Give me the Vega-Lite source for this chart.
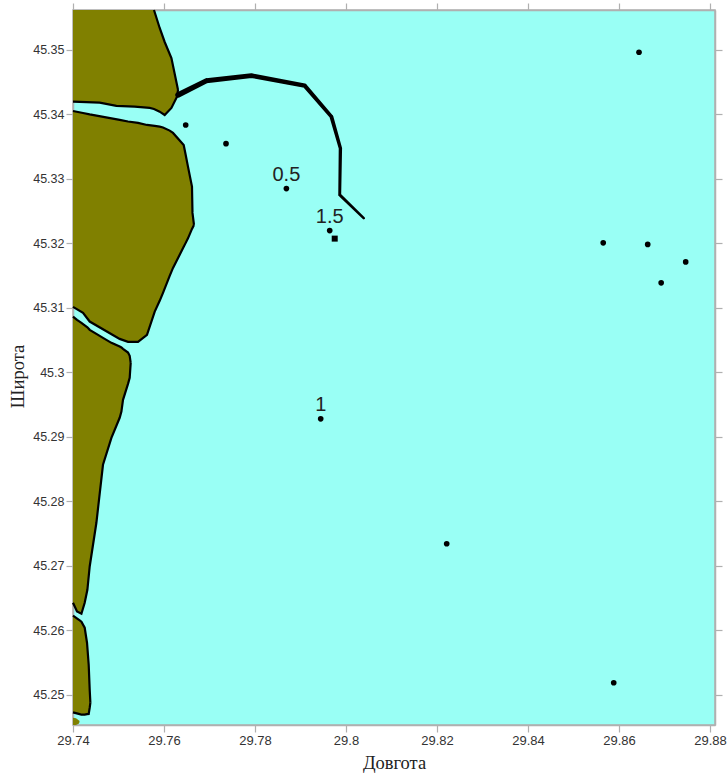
{
"$schema":"https://vega.github.io/schema/vega-lite/v6.json",
"width":642,"height":715,
"autosize":"none",
"padding":{"left":73,"top":10,"right":13,"bottom":48},
"background":"white",
"view":{"fill":"#99FFF5","stroke":"#b0b0b0","strokeWidth":1.5},
"config":{"font":"Liberation Sans","axis":{"grid":false,"domainColor":"#b0b0b0","domainWidth":1.5,"tickColor":"#b0b0b0","tickSize":7,"tickWidth":1.2,"labelColor":"#333333","labelFont":"Liberation Sans","labelFontSize":12.5,"labelOverlap":false,"labelFlush":false,"titleFont":"Liberation Serif","titleFontSize":18.5,"titleFontWeight":"normal","titleColor":"#222222"}},
"datasets":{
"land":[
{"piece":1,"lon":29.74,"top":45.3562,"bottom":45.34198},
{"piece":1,"lon":29.74587,"top":45.3562,"bottom":45.34183},
{"piece":1,"lon":29.74954,"top":45.3562,"bottom":45.34132},
{"piece":1,"lon":29.75356,"top":45.3562,"bottom":45.34121},
{"piece":1,"lon":29.75686,"top":45.3562,"bottom":45.34101},
{"piece":1,"lon":29.7578,"top":45.3562,"bottom":45.34085},
{"piece":1,"lon":29.75905,"top":45.35341,"bottom":45.34043},
{"piece":1,"lon":29.76015,"top":45.35124,"bottom":45.33992},
{"piece":1,"lon":29.76163,"top":45.34876,"bottom":45.34101},
{"piece":1,"lon":29.76286,"top":45.34457,"bottom":45.34276},
{"piece":1,"lon":29.76308,"top":45.3438,"bottom":45.3438},
{"piece":2,"lon":29.74,"top":45.34054,"bottom":45.31016},
{"piece":2,"lon":29.7422,"top":45.34023,"bottom":45.30922},
{"piece":2,"lon":29.74367,"top":45.34,"bottom":45.30788},
{"piece":2,"lon":29.75026,"top":45.33915,"bottom":45.30519},
{"piece":2,"lon":29.75209,"top":45.33891,"bottom":45.30473},
{"piece":2,"lon":29.75429,"top":45.33868,"bottom":45.30473},
{"piece":2,"lon":29.75626,"top":45.33837,"bottom":45.30581},
{"piece":2,"lon":29.75796,"top":45.33822,"bottom":45.30943},
{"piece":2,"lon":29.75905,"top":45.33811,"bottom":45.31109},
{"piece":2,"lon":29.75978,"top":45.33798,"bottom":45.31233},
{"piece":2,"lon":29.76125,"top":45.33749,"bottom":45.31496},
{"piece":2,"lon":29.76198,"top":45.33713,"bottom":45.3162},
{"piece":2,"lon":29.76433,"top":45.33527,"bottom":45.31946},
{"piece":2,"lon":29.76477,"top":45.33372,"bottom":45.32008},
{"piece":2,"lon":29.76527,"top":45.33191,"bottom":45.32078},
{"piece":2,"lon":29.76615,"top":45.32881,"bottom":45.32225},
{"piece":2,"lon":29.76626,"top":45.32473,"bottom":45.3224},
{"piece":2,"lon":29.76659,"top":45.32287,"bottom":45.32287},
{"piece":3,"lon":29.74,"top":45.30865,"bottom":45.26426},
{"piece":3,"lon":29.74088,"top":45.30814,"bottom":45.26291},
{"piece":3,"lon":29.74185,"top":45.30767,"bottom":45.26256},
{"piece":3,"lon":29.74257,"top":45.30729,"bottom":45.26426},
{"piece":3,"lon":29.74316,"top":45.30698,"bottom":45.26628},
{"piece":3,"lon":29.74367,"top":45.30659,"bottom":45.26989},
{"piece":3,"lon":29.74514,"top":45.30597,"bottom":45.27667},
{"piece":3,"lon":29.74659,"top":45.30535,"bottom":45.28566},
{"piece":3,"lon":29.74844,"top":45.30457,"bottom":45.28984},
{"piece":3,"lon":29.75026,"top":45.304,"bottom":45.29295},
{"piece":3,"lon":29.75064,"top":45.30386,"bottom":45.29392},
{"piece":3,"lon":29.75099,"top":45.30364,"bottom":45.29574},
{"piece":3,"lon":29.75209,"top":45.30307,"bottom":45.29822},
{"piece":3,"lon":29.75246,"top":45.30256,"bottom":45.29915},
{"piece":3,"lon":29.75268,"top":45.30147,"bottom":45.30147},
{"piece":4,"lon":29.74,"top":45.26225,"bottom":45.24726},
{"piece":4,"lon":29.74147,"top":45.26152,"bottom":45.24698},
{"piece":4,"lon":29.74185,"top":45.26132,"bottom":45.2469},
{"piece":4,"lon":29.74257,"top":45.26039,"bottom":45.2469},
{"piece":4,"lon":29.74308,"top":45.25806,"bottom":45.24698},
{"piece":4,"lon":29.74345,"top":45.25465,"bottom":45.24701},
{"piece":4,"lon":29.74367,"top":45.25078,"bottom":45.24798},
{"piece":4,"lon":29.74382,"top":45.24876,"bottom":45.24876},
{"piece":5,"lon":29.74,"top":45.24643,"bottom":45.2453},
{"piece":5,"lon":29.74066,"top":45.24636,"bottom":45.2453},
{"piece":5,"lon":29.74125,"top":45.24605,"bottom":45.2455},
{"piece":5,"lon":29.74147,"top":45.24581,"bottom":45.24581}
],
"route":[
{"step":0,"lon":29.76308,"lat":45.34302},
{"step":1,"lon":29.76932,"lat":45.34524},
{"step":2,"lon":29.77921,"lat":45.34602},
{"step":3,"lon":29.79092,"lat":45.34447},
{"step":4,"lon":29.79679,"lat":45.33966},
{"step":5,"lon":29.79877,"lat":45.33476},
{"step":6,"lon":29.79862,"lat":45.32752},
{"step":7,"lon":29.80389,"lat":45.32391}
],
"stations":[
{"lon":29.76477,"lat":45.33837,"kind":"circle","label":""},
{"lon":29.77363,"lat":45.33547,"kind":"circle","label":""},
{"lon":29.7869,"lat":45.3285,"kind":"circle","label":"0.5"},
{"lon":29.79642,"lat":45.32198,"kind":"circle","label":"1.5"},
{"lon":29.79752,"lat":45.32074,"kind":"square","label":""},
{"lon":29.8644,"lat":45.34964,"kind":"circle","label":""},
{"lon":29.85653,"lat":45.32008,"kind":"circle","label":""},
{"lon":29.86631,"lat":45.31984,"kind":"circle","label":""},
{"lon":29.87466,"lat":45.31713,"kind":"circle","label":""},
{"lon":29.86927,"lat":45.31388,"kind":"circle","label":""},
{"lon":29.79444,"lat":45.29279,"kind":"circle","label":"1"},
{"lon":29.82213,"lat":45.27341,"kind":"circle","label":""},
{"lon":29.85884,"lat":45.25186,"kind":"circle","label":""}
]
},
"resolve":{"axis":{"x":"independent","y":"independent"}},
"layer":[
{"data":{"name":"land"},
 "mark":{"type":"area","color":"#808000","orient":"vertical","opacity":1},
 "encoding":{
  "x":{"field":"lon","type":"quantitative","scale":{"domain":[29.74,29.8811],"nice":false,"zero":false},
   "axis":{"orient":"bottom","title":"Довгота","values":[29.74,29.76,29.78,29.8,29.82,29.84,29.86,29.88],"format":".2~f","labelFontSize":13,"labelPadding":2,"titlePadding":6}},
  "y":{"field":"top","type":"quantitative","scale":{"domain":[45.2453,45.3562],"nice":false,"zero":false},
   "axis":{"orient":"left","title":"Широта","values":[45.25,45.26,45.27,45.28,45.29,45.3,45.31,45.32,45.33,45.34,45.35],"format":".2~f","labelPadding":2,"titlePadding":5,"titleY":366}},
  "y2":{"field":"bottom"},
  "detail":{"field":"piece"}
 }},
{"data":{"name":"land"},
 "transform":[{"filter":"datum.piece > 1 && datum.piece < 5 || datum.piece == 1 && datum.lon >= 29.7578"}],
 "mark":{"type":"line","color":"black","strokeWidth":2.2},
 "encoding":{
  "x":{"field":"lon","type":"quantitative","axis":{"orient":"top","title":null,"labels":false,"domain":true,"values":[29.74,29.76,29.78,29.8,29.82,29.84,29.86,29.88]}},
  "y":{"field":"top","type":"quantitative","axis":{"orient":"right","title":null,"labels":false,"domain":true,"values":[45.25,45.26,45.27,45.28,45.29,45.3,45.31,45.32,45.33,45.34,45.35]}},
  "detail":{"field":"piece"}
 }},
{"data":{"name":"land"},
 "transform":[{"filter":"datum.piece < 5"}],
 "mark":{"type":"line","color":"black","strokeWidth":2.2},
 "encoding":{
  "x":{"field":"lon","type":"quantitative","axis":null},
  "y":{"field":"bottom","type":"quantitative","axis":null},
  "detail":{"field":"piece"}
 }},
{"data":{"name":"route"},
 "mark":{"type":"trail","color":"black"},
 "encoding":{
  "x":{"field":"lon","type":"quantitative","axis":null},
  "y":{"field":"lat","type":"quantitative","axis":null},
  "order":{"field":"step"},
  "size":{"field":"step","type":"quantitative","legend":null,"scale":{"domain":[0,7],"range":[5.5,2.5]}}
 }},
{"data":{"name":"stations"},
 "mark":{"type":"point","filled":true,"color":"black","opacity":1},
 "encoding":{
  "x":{"field":"lon","type":"quantitative","axis":null},
  "y":{"field":"lat","type":"quantitative","axis":null},
  "shape":{"field":"kind","type":"nominal","legend":null,"scale":{"domain":["circle","square"],"range":["circle","square"]}},
  "size":{"field":"kind","type":"nominal","legend":null,"scale":{"domain":["circle","square"],"range":[32,36]}}
 }},
{"data":{"name":"stations"},
 "mark":{"type":"text","font":"Liberation Sans","fontSize":20,"color":"#222222","dy":-14},
 "encoding":{
  "x":{"field":"lon","type":"quantitative","axis":null},
  "y":{"field":"lat","type":"quantitative","axis":null},
  "text":{"field":"label"}
 }}
]
}
